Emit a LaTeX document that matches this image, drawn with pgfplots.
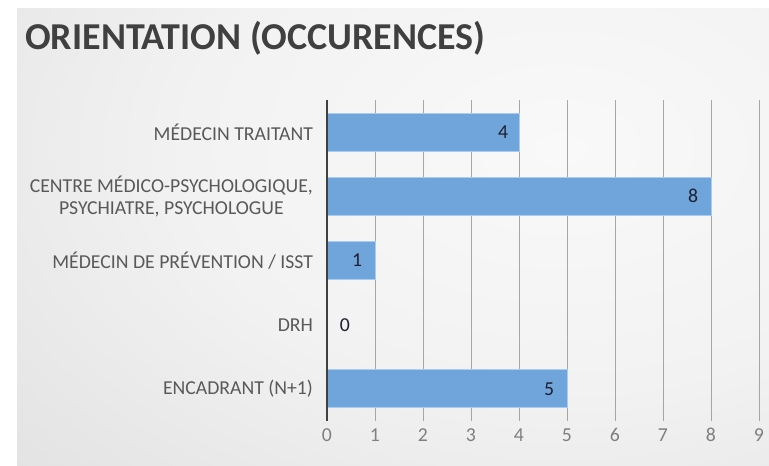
\documentclass[border=0pt]{standalone}
\usepackage{pgfplots}
\pgfplotsset{compat=1.18}
\usepackage{pgfplotstable}
\usepackage{fontspec}
\setmainfont{Carlito}
\definecolor{barblue}{HTML}{6FA5DB}
\definecolor{baredge}{HTML}{A9CDF0}
\definecolor{titlegray}{HTML}{404040}
\definecolor{labgray}{HTML}{595959}
\definecolor{tickgray}{HTML}{7F7F7F}
\definecolor{gridgray}{HTML}{A6A6A6}
\definecolor{valdark}{HTML}{1F1F2F}
\definecolor{bgA}{HTML}{F9F9F9}
\definecolor{bgB}{HTML}{F2F2F2}
\definecolor{bgC}{HTML}{E4E4E4}
\definecolor{bgD}{HTML}{D6D6D6}
\definecolor{bgE}{HTML}{C6C6C6}
\pgfdeclareradialshading{bgshade}{\pgfpointorigin}{color(0bp)=(bgA); color(10bp)=(bgB); color(19bp)=(bgC); color(30bp)=(bgD); color(40bp)=(bgE); color(50bp)=(bgE)}
\pgfplotstableread{
y v lx
0 4 3.67
1 8 7.63
2 1 0.63
3 0 0.37
4 5 4.63
}\datatable
\begin{document}
\begin{tikzpicture}
\fill[white] (0,0) rectangle (576.75pt,349.5pt);
\path[use as bounding box] (0,0) rectangle (576.75pt,349.5pt);
\begin{scope}
\clip (12.75pt,0) rectangle (576.75pt,342.75pt);
\fill[bgE] (12.75pt,0) rectangle (576.75pt,342.75pt);
\shade[shading=bgshade] (420pt,237pt) ellipse (700pt and 450pt);
\end{scope}
\node[anchor=base west, inner sep=0pt, font=\fontsize{28.5}{32}\selectfont\bfseries, text=titlegray] at (18.75pt,312pt) {ORIENTATION (OCCURENCES)};
\begin{axis}[
  at={(245.25pt,33.75pt)}, anchor=south west,
  scale only axis, width=324pt, height=240.75pt,
  xmin=0, xmax=9, ymin=-0.5, ymax=4.5, y dir=reverse,
  xtick={0,...,9}, ytick={0,...,4},
  yticklabels={{MÉDECIN TRAITANT},{CENTRE MÉDICO-PSYCHOLOGIQUE,\\PSYCHIATRE, PSYCHOLOGUE},{MÉDECIN DE PRÉVENTION / ISST},{DRH},{ENCADRANT (N+1)}},
  axis line style={draw=none},
  major tick length=0pt,
  xmajorgrids, grid style={gridgray, line width=0.6pt},
  /pgf/number format/assume math mode=true,
  ticklabel style={font=\fontsize{14.8}{16.5}\selectfont},
  xticklabel style={text=tickgray, yshift=-2pt},
  yticklabel style={text=labgray, align=center, xshift=-7pt},
  clip=false,
]
\addplot[xbar, bar width=28.5pt, fill=barblue, draw=baredge, line width=0.7pt] table[x=v, y=y] {\datatable};
\addplot[draw=none, mark=none, nodes near coords, point meta=explicit,
  nodes near coords style={anchor=center, text=valdark, font=\fontsize{14.8}{16}\selectfont}]
  table[x=lx, y=y, meta=v] {\datatable};
\draw[titlegray, line width=1.5pt] (axis cs:0,-0.5) -- (axis cs:0,4.5);
\end{axis}
\end{tikzpicture}
\end{document}
